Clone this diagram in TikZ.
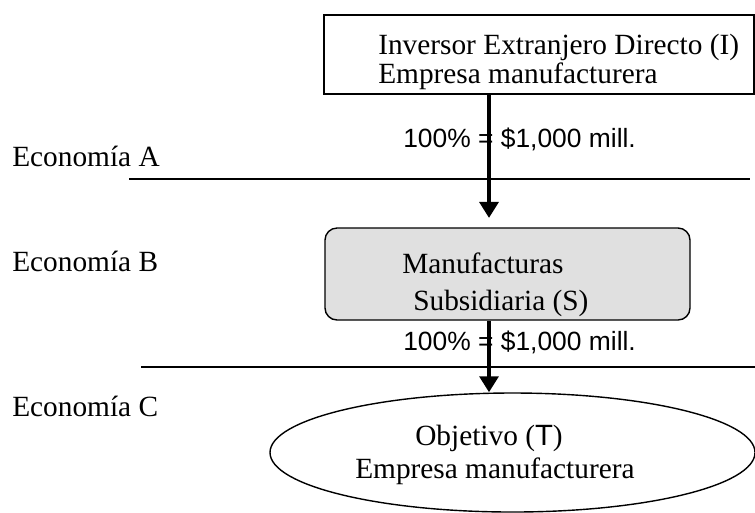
\documentclass[tikz,border=0pt]{standalone}
\usepackage{fontspec}
\setmainfont{Liberation Serif}
\setsansfont{Liberation Sans}
\usetikzlibrary{arrows.meta,shapes.geometric,calc}
\definecolor{boxgray}{RGB}{224,224,224}
\begin{document}
\begin{tikzpicture}[x=0.75pt,y=-0.75pt,
  lbl/.style={anchor=base west,inner sep=0pt,font=\fontsize{22pt}{26pt}\selectfont},
  money/.style={anchor=base west,inner sep=0pt,font=\sffamily\fontsize{19.8pt}{24pt}\selectfont},
  border/.style={line width=1.05pt},
  flow/.style={line width=3pt,-{Triangle[length=12pt,width=14pt]}},
  sep/.style={line width=1.2pt}]
\useasboundingbox (0,0) rectangle (755,512);
\begin{scope}
\clip (0,0) rectangle (755,512);

% economy labels and borders
\node[lbl] (ecoA) at (12,166) {Economía A};
\node[lbl] (ecoB) at (12,271) {Economía B};
\node[lbl] (ecoC) at (12,416) {Economía C};
\coordinate (sepAl) at (129,179);
\coordinate (sepAr) at (750,179);
\coordinate (sepBl) at (141,367);
\coordinate (sepBr) at (755,367);
\draw[sep] (sepAl) -- (sepAr);
\draw[sep] (sepBl) -- (sepBr);

% investor box
\node[draw,border,rectangle,inner sep=0pt,minimum width=322.5pt,minimum height=59.25pt]
  (inv) at (539,54.5) {};
\node[lbl] (invt1) at (378,54) {Inversor Extranjero Directo (I)};
\node[lbl] (invt2) at (378,83) {Empresa manufacturera};

% subsidiary box
\node[draw,border,rectangle,rounded corners=9pt,fill=boxgray,inner sep=0pt,
  minimum width=273.75pt,minimum height=69pt] (sub) at (507.5,274) {};
\node[lbl] (subt1) at (402,273) {Manufacturas};
\node[lbl] (subt2) at (413,310) {Subsidiaria (S)};

% target ellipse
\node[draw,border,ellipse,inner sep=0pt,minimum width=363.75pt,minimum height=89.25pt]
  (tgt) at (512.5,452.5) {};
\node[lbl] (tgtt1) at (415,445) {Objetivo ({\sffamily T})};
\node[lbl] (tgtt2) at (355,478) {Empresa manufacturera};

% ownership labels
\node[money] (own1) at (403,147) {100\% = \$1,000 mill.};
\node[money] (own2) at (403,350) {100\% = \$1,000 mill.};

% ownership arrows
\coordinate (ax) at (489,0);
\draw[flow,shorten >=7pt] (ax |- inv.south) -- (ax |- sub.north);
\draw[flow] (ax |- sub.south) -- (ax |- tgt.north);
\end{scope}
\end{tikzpicture}
\end{document}
